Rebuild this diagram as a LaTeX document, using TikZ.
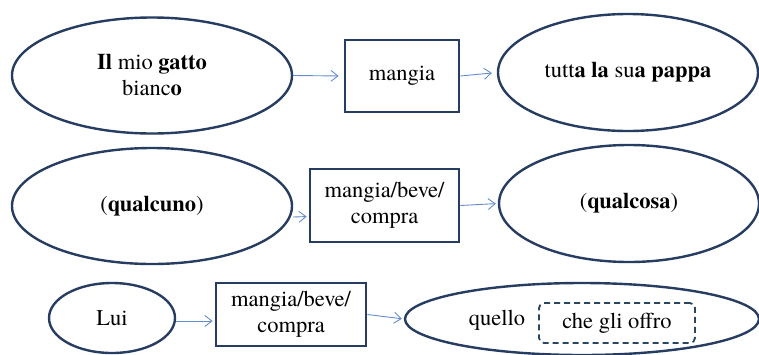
\documentclass[tikz,border=0pt]{standalone}
\usepackage{fontspec}
\setmainfont{texgyretermes}[Extension=.otf, UprightFont=*-regular, BoldFont=*-bold, ItalicFont=*-italic, BoldItalicFont=*-bolditalic]
\usetikzlibrary{shapes.geometric,arrows.meta}
\definecolor{navy}{RGB}{38,60,96}
\definecolor{arrowblue}{RGB}{100,140,205}
\definecolor{dashcol}{RGB}{40,70,95}
\tikzset{
  ell/.style={ellipse, draw=navy, line width=2.4pt, inner sep=0pt, align=center, font=\fontsize{22.5}{26}\selectfont},
  vbox/.style={rectangle, draw=navy, line width=2.8pt, inner sep=0pt, align=center, font=\fontsize{22.5}{26}\selectfont},
  txt/.style={inner sep=0pt, font=\fontsize{22.5}{26}\selectfont},
  dbox/.style={rectangle, rounded corners=5pt, draw=dashcol, line width=1.8pt, dash pattern=on 6pt off 4pt, inner sep=0pt, font=\fontsize{22.5}{26}\selectfont},
  arr/.style={draw=arrowblue, line width=0.9pt, -{Straight Barb[length=7pt,width=11pt,line width=0.9pt]}}
}
\begin{document}
\begin{tikzpicture}[x=1pt,y=-1pt]
\useasboundingbox (0,0) rectangle (759,354);
% row 1
\node[ell, minimum width=280pt, minimum height=116pt] (e1) at (152,75.5) {\textbf{Il} mio \textbf{gatto}\\bianc\textbf{o}};
\node[vbox, minimum width=114pt, minimum height=72pt] (b1) at (402,76) {mangia};
\node[ell, minimum width=260pt, minimum height=117pt] (f1) at (628,72.5) {tutt\textbf{a la} su\textbf{a pappa}};
\draw[arr, shorten >=5pt] (e1.east) -- (b1.west);
\draw[arr, shorten >=5pt] (b1.east) -- (f1.west);
% row 2
\node[ell, minimum width=280pt, minimum height=116pt] (e2) at (152,206) {(\textbf{qualcuno})};
\node[vbox, minimum width=149pt, minimum height=73pt] (b2) at (384.5,205.5) {mangia/beve/\\compra};
\node[ell, minimum width=260pt, minimum height=117pt] (f2) at (629,203.5) {(\textbf{qualcosa})};
\draw[arr, shorten >=2pt] ([yshift=-11pt]e2.east) -- ([yshift=-11pt]b2.west);
\draw[arr, shorten >=2pt] (b2.east) -- (f2.west);
% row 3
\node[ell, minimum width=126pt, minimum height=70pt] (e3) at (112,318) {Lui};
\node[vbox, minimum width=150pt, minimum height=63pt] (b3) at (291,314.5) {mangia/beve/\\compra};
\node[ell, minimum width=354pt, minimum height=72pt] (f3) at (582,319) {};
\node[txt] (q) at (497,320) {quello};
\node[dbox, minimum width=156pt, minimum height=40pt] (d) at (617,323) {che gli offro};
\draw[arr, shorten >=2pt] ([yshift=-3pt]e3.east) -- ([yshift=-6.5pt]b3.west);
\draw[arr, shorten >=2pt] (b3.east) -- (f3.west);
\end{tikzpicture}
\end{document}
